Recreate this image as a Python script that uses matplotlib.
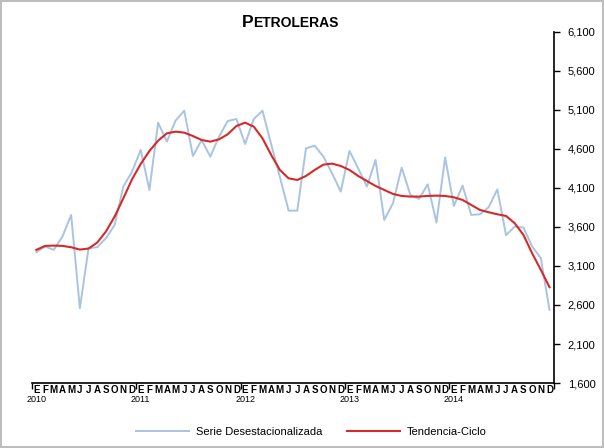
import numpy as np
import matplotlib.pyplot as plt
from matplotlib.offsetbox import TextArea, HPacker, AnchoredOffsetbox
import matplotlib.transforms as mtransforms

plt.rcParams['font.family'] = ['Liberation Sans', 'DejaVu Sans']

months = ['E', 'F', 'M', 'A', 'M', 'J', 'J', 'A', 'S', 'O', 'N', 'D'] * 5
years = ['2010', '2011', '2012', '2013', '2014']

serie = [3276, 3349, 3306, 3477, 3754, 2559, 3327, 3340, 3455, 3626, 4117, 4309,
         4586, 4074, 4936, 4693, 4961, 5089, 4509, 4714, 4501, 4757, 4957, 4983,
         4663, 4983, 5089, 4659, 4240, 3809, 3809, 4607, 4641, 4501, 4287, 4053,
         4573, 4351, 4117, 4458, 3690, 3903, 4360, 4010, 3959, 4146, 3656, 4492,
         3869, 4129, 3754, 3762, 3852, 4082, 3494, 3605, 3592, 3349, 3199, 2538]

tendencia = [3306, 3357, 3361, 3357, 3340, 3310, 3323, 3400, 3541, 3733, 3967, 4210,
             4407, 4573, 4705, 4799, 4821, 4808, 4765, 4714, 4693, 4722, 4787, 4893,
             4936, 4885, 4735, 4522, 4330, 4223, 4202, 4253, 4330, 4398, 4411, 4381,
             4330, 4253, 4189, 4125, 4074, 4023, 3997, 3989, 3989, 3997, 4001, 3997,
             3980, 3946, 3882, 3818, 3788, 3762, 3741, 3647, 3498, 3263, 3050, 2828]

yticks = [1600, 2100, 2600, 3100, 3600, 4100, 4600, 5100, 5600, 6100]

fig = plt.figure(figsize=(6.04, 4.48), dpi=100)
fig.patch.set_edgecolor('#bdbdbd')
fig.patch.set_linewidth(1.5)
ax = fig.add_axes([0.053, 0.145, 0.864, 0.784])

x = np.arange(len(serie))
ax.plot(x, serie, color='#a9c3e3', lw=1.4, label='Serie Desestacionalizada')
ax.plot(x, tendencia, color='#d62a2a', lw=1.5, label='Tendencia-Ciclo')

ax.set_xlim(-0.5, 59.5)
ax.set_ylim(1600, 6100)

for s in ['left', 'top']:
    ax.spines[s].set_visible(False)
ax.spines['bottom'].set_linewidth(1.2)
ax.spines['right'].set_linewidth(1.2)

ax.yaxis.tick_right()
ax.set_yticks(yticks)
ax.set_yticklabels(['{:,}'.format(v) for v in yticks], fontsize=8)
ax.tick_params(axis='y', length=4, width=1, pad=6)

ax.set_xticks(x)
ax.set_xticklabels(months, fontsize=7, fontweight='bold', fontstretch='condensed')
ax.set_xticks(np.arange(-0.5, 60, 12), minor=True)
ax.tick_params(axis='x', which='major', length=0, pad=1.5)
ax.tick_params(axis='x', which='minor', length=4, width=1)

trans = mtransforms.blended_transform_factory(ax.transData, ax.transAxes)
for k, yr in enumerate(years):
    ax.text(k * 12, -0.033, yr, transform=trans, ha='center', va='top', fontsize=6.5)

title = HPacker(children=[TextArea('P', textprops=dict(fontsize=12.5, fontweight='bold')),
                          TextArea('ETROLERAS', textprops=dict(fontsize=10, fontweight='bold'))],
                align='baseline', pad=0, sep=0)
box = AnchoredOffsetbox(loc='center', child=title, frameon=False,
                        bbox_to_anchor=(0.48, 0.95), bbox_transform=fig.transFigure)
fig.add_artist(box)

fig.legend(loc='center', bbox_to_anchor=(0.515, 0.035), ncol=2, frameon=False,
           fontsize=8, handlelength=4.8, columnspacing=2.2, handletextpad=0.6)

fig.savefig('out.png', dpi=100)
